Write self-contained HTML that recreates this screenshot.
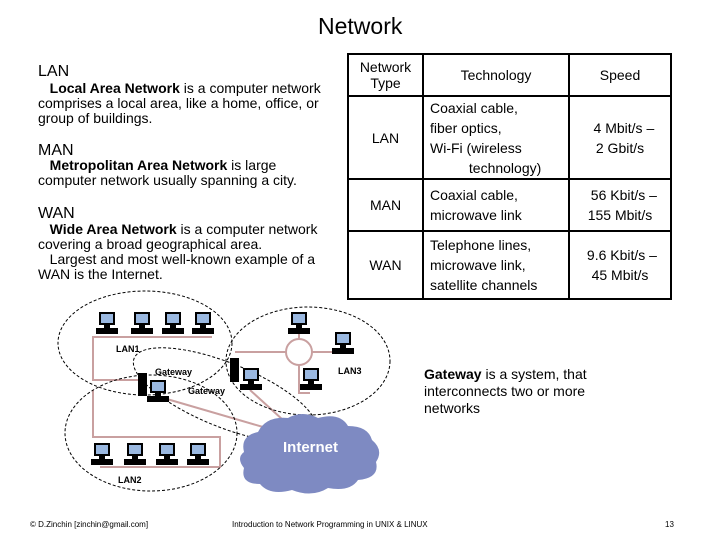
<!DOCTYPE html>
<html><head><meta charset="utf-8"><style>
body{margin:0;width:720px;height:540px;background:#fff;position:relative;overflow:hidden;font-family:"Liberation Sans",sans-serif;color:#000}
.a{position:absolute;white-space:nowrap}
.t{font-size:14px;line-height:15px}
table{position:absolute;left:347px;top:53px;border-collapse:collapse;font-size:14px}
td{border:2px solid #000;text-align:center;padding:0;line-height:20px;vertical-align:middle}
</style></head><body>
<div class="a" style="left:318px;top:13px;font-size:23px">Network</div>
<div class="a" style="left:38px;top:63px;font-size:16px">LAN</div>
<div class="a t" style="left:38px;top:81px">&nbsp;&nbsp;&nbsp;<b>Local Area Network</b> is a computer network<br>comprises a local area, like a home, office, or<br>group of buildings.</div>
<div class="a" style="left:38px;top:142px;font-size:16px">MAN</div>
<div class="a t" style="left:38px;top:158px">&nbsp;&nbsp;&nbsp;<b>Metropolitan Area Network</b> is large<br>computer network usually spanning a city.</div>
<div class="a" style="left:38px;top:205px;font-size:16px">WAN</div>
<div class="a t" style="left:38px;top:222px">&nbsp;&nbsp;&nbsp;<b>Wide Area Network</b> is a computer network<br>covering a broad geographical area.<br>&nbsp;&nbsp;&nbsp;Largest and most well-known example of a<br>WAN is the Internet.</div>
<table>
<tr style="height:42px"><td style="width:73px;line-height:16px">Network<br>Type</td><td style="width:144px">Technology</td><td style="width:100px">Speed</td></tr>
<tr style="height:83px"><td>LAN</td><td style="text-align:left;padding-left:6px">Coaxial cable,<br>fiber optics,<br>Wi-Fi (wireless<br>&nbsp;&nbsp;&nbsp;&nbsp;&nbsp;&nbsp;&nbsp;&nbsp;&nbsp;&nbsp;technology)</td><td>&nbsp;&nbsp;4 Mbit/s –<br>2 Gbit/s</td></tr>
<tr style="height:52px"><td>MAN</td><td style="text-align:left;padding-left:6px">Coaxial cable,<br>microwave link</td><td>&nbsp;&nbsp;56 Kbit/s –<br>155 Mbit/s</td></tr>
<tr style="height:68px"><td>WAN</td><td style="text-align:left;padding-left:6px">Telephone lines,<br>microwave link,<br>satellite channels</td><td>&nbsp;9.6 Kbit/s –<br>45 Mbit/s</td></tr>
</table>
<div class="a t" style="left:424px;top:366px;line-height:17px"><b>Gateway</b> is a system, that<br>interconnects two or more<br>networks</div>
<svg class="a" style="left:0;top:0" width="720" height="540">
<defs><g id="pc"><rect x="3" y="0" width="16" height="13" fill="#000"/><rect x="5" y="2" width="12" height="9" fill="#9ab8e0"/><rect x="0" y="16" width="22" height="6" fill="#000"/><rect x="8" y="13" width="6" height="3" fill="#000"/></g></defs>
<g fill="none" stroke="#c9a0a0" stroke-width="2">
<path d="M92 337 H212 M93 337 V380 H143 M93 390 V437 H220 V467 H100"/>
<path d="M160 397 L263 427 M250 390 L283 420"/>
<path d="M235 352 H286 M299 339 V330 M312 352 H335 M299 365 V393 H310"/>
<circle cx="299" cy="352" r="13"/>
</g>
<g fill="none" stroke="#000" stroke-dasharray="3,2" stroke-width="1">
<ellipse cx="145" cy="343" rx="87" ry="52"/>
<ellipse cx="151" cy="433" rx="86" ry="58"/>
<ellipse cx="308" cy="361" rx="82" ry="54"/>
<ellipse cx="225" cy="395" rx="98" ry="32" transform="rotate(22 225 395)"/>
</g>
<path d="M244 452 q-4-16 14-20 q8-16 30-14 q14-8 30 0 q22-6 30 8 q20 0 24 14 q12 10 4 22 q4 16-18 18 q-8 12-30 8 q-16 10-36 2 q-22 6-32-6 q-20 0-16-16 q-8-10 0-16z" fill="#7e8ac2"/>
<text x="283" y="452" font-size="15" fill="#fff" font-weight="bold">Internet</text>
<use href="#pc" x="96" y="312"/><use href="#pc" x="131" y="312"/><use href="#pc" x="162" y="312"/><use href="#pc" x="192" y="312"/>
<use href="#pc" x="288" y="312"/><use href="#pc" x="332" y="332"/><use href="#pc" x="300" y="368"/>
<use href="#pc" x="91" y="443"/><use href="#pc" x="124" y="443"/><use href="#pc" x="156" y="443"/><use href="#pc" x="187" y="443"/>
<rect x="138" y="373" width="9" height="23" fill="#000"/><use href="#pc" x="147" y="380"/>
<rect x="230" y="358" width="9" height="24" fill="#000"/><use href="#pc" x="240" y="368"/>
<g font-size="9" font-weight="bold"><text x="116" y="352">LAN1</text><text x="155" y="375">Gateway</text><text x="188" y="394">Gateway</text><text x="338" y="374">LAN3</text><text x="118" y="483">LAN2</text></g>
</svg>
<div class="a" style="left:30px;top:520px;font-size:8px">© D.Zinchin [zinchin@gmail.com]</div>
<div class="a" style="left:232px;top:520px;font-size:8px">Introduction to Network Programming in UNIX &amp; LINUX</div>
<div class="a" style="left:665px;top:520px;font-size:8px">13</div>
</body></html>
